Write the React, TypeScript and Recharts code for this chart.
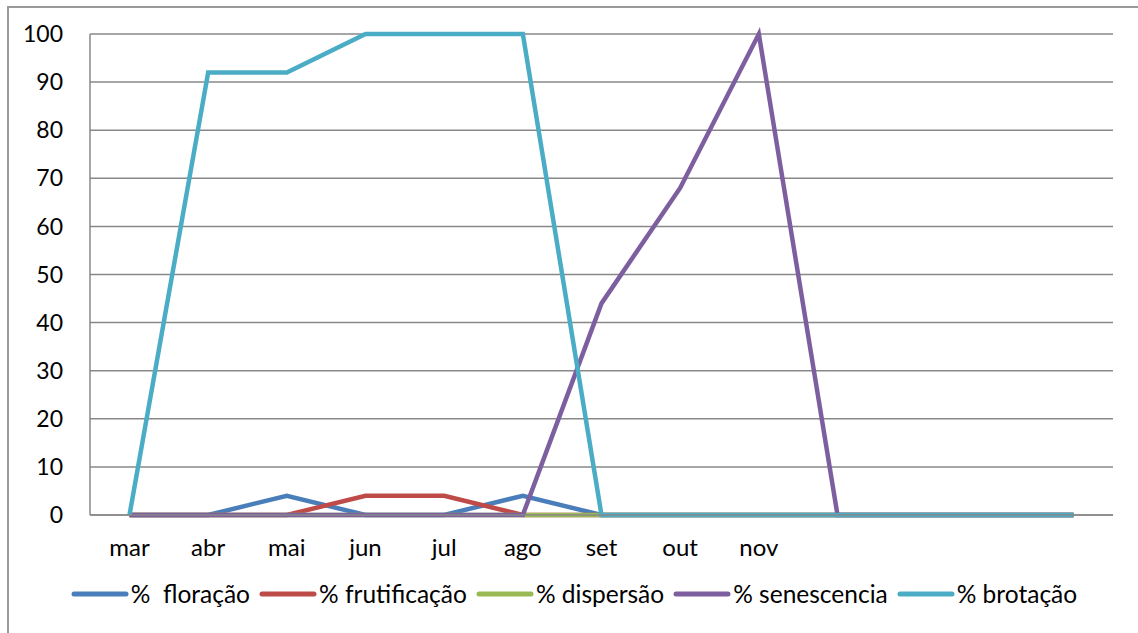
import { LineChart, Line, XAxis, YAxis, CartesianGrid, Legend } from 'recharts';

const months = ['mar', 'abr', 'mai', 'jun', 'jul', 'ago', 'set', 'out', 'nov', '', '', '', ''];
const floracao = [0, 0, 4, 0, 0, 4, 0, 0, 0, 0, 0, 0, 0];
const frutificacao = [0, 0, 0, 4, 4, 0, 0, 0, 0, 0, 0, 0, 0];
const dispersao = [0, 0, 0, 0, 0, 0, 0, 0, 0, 0, 0, 0, 0];
const senescencia = [0, 0, 0, 0, 0, 0, 44, 68, 100, 0, 0, 0, 0];
const brotacao = [0, 92, 92, 100, 100, 100, 0, 0, 0, 0, 0, 0, 0];
const yTicks = [0, 10, 20, 30, 40, 50, 60, 70, 80, 90, 100];

const series = [
  { key: 'floracao', name: '%  floração', color: '#4A7EBB' },
  { key: 'frutificacao', name: '% frutificação', color: '#BE4B48' },
  { key: 'dispersao', name: '% dispersão', color: '#98B954' },
  { key: 'senescencia', name: '% senescencia', color: '#7D5FA0' },
  { key: 'brotacao', name: '% brotação', color: '#4BACC6' },
];

const data = months.map((m, i) => ({
  month: m,
  floracao: floracao[i],
  frutificacao: frutificacao[i],
  dispersao: dispersao[i],
  senescencia: senescencia[i],
  brotacao: brotacao[i],
}));

const font = 'Lato, "Open Sans", sans-serif';

function LegendRow() {
  return (
    <div style={{ display: 'flex', justifyContent: 'center', alignItems: 'center', fontFamily: font, fontSize: 24.5, color: '#000', paddingLeft: 44, paddingTop: 4 }}>
      {series.map((s) => (
        <div key={s.key} style={{ display: 'flex', alignItems: 'center', marginRight: 9 }}>
          <svg width={58} height={8}>
            <line x1={3} y1={4} x2={55} y2={4} stroke={s.color} strokeWidth={5} strokeLinecap="round" />
          </svg>
          <span style={{ marginLeft: 2, whiteSpace: 'pre' }}>{s.name}</span>
        </div>
      ))}
    </div>
  );
}

export default function App() {
  return (
    <div style={{ position: 'absolute', left: 0, top: 0, width: 1138, height: 633, background: '#fff', overflow: 'hidden' }}>
      <div style={{ position: 'absolute', left: 7, top: 6, width: 1200, height: 700, borderLeft: '2px solid #999', borderTop: '2px solid #999' }} />
      <LineChart
        width={1138}
        height={633}
        data={data}
        margin={{ top: 34, right: 25, left: 0, bottom: 0 }}
        style={{ position: 'absolute', left: 0, top: 0 }}
      >
        <CartesianGrid vertical={false} stroke="#888" strokeWidth={1.5} />
        <XAxis
          dataKey="month"
          interval={0}
          padding={{ left: 39.5, right: 39.5 }}
          tickLine={false}
          axisLine={{ stroke: '#888', strokeWidth: 1.5 }}
          tickSize={0}
          tickMargin={24}
          height={60}
          tick={{ fill: '#000', fontSize: 24, fontFamily: font }}
        />
        <YAxis
          domain={[0, 100]}
          ticks={yTicks}
          width={90}
          tickLine={false}
          tickSize={0}
          tickMargin={27}
          axisLine={{ stroke: '#888', strokeWidth: 1.5 }}
          tick={{ fill: '#000', fontSize: 23, fontFamily: font }}
        />
        <Legend verticalAlign="bottom" height={58} content={() => <LegendRow />} />
        {series.map((s) => (
          <Line
            key={s.key}
            type="linear"
            dataKey={s.key}
            name={s.name}
            stroke={s.color}
            strokeWidth={4.5}
            dot={false}
            isAnimationActive={false}
          />
        ))}
      </LineChart>
    </div>
  );
}
